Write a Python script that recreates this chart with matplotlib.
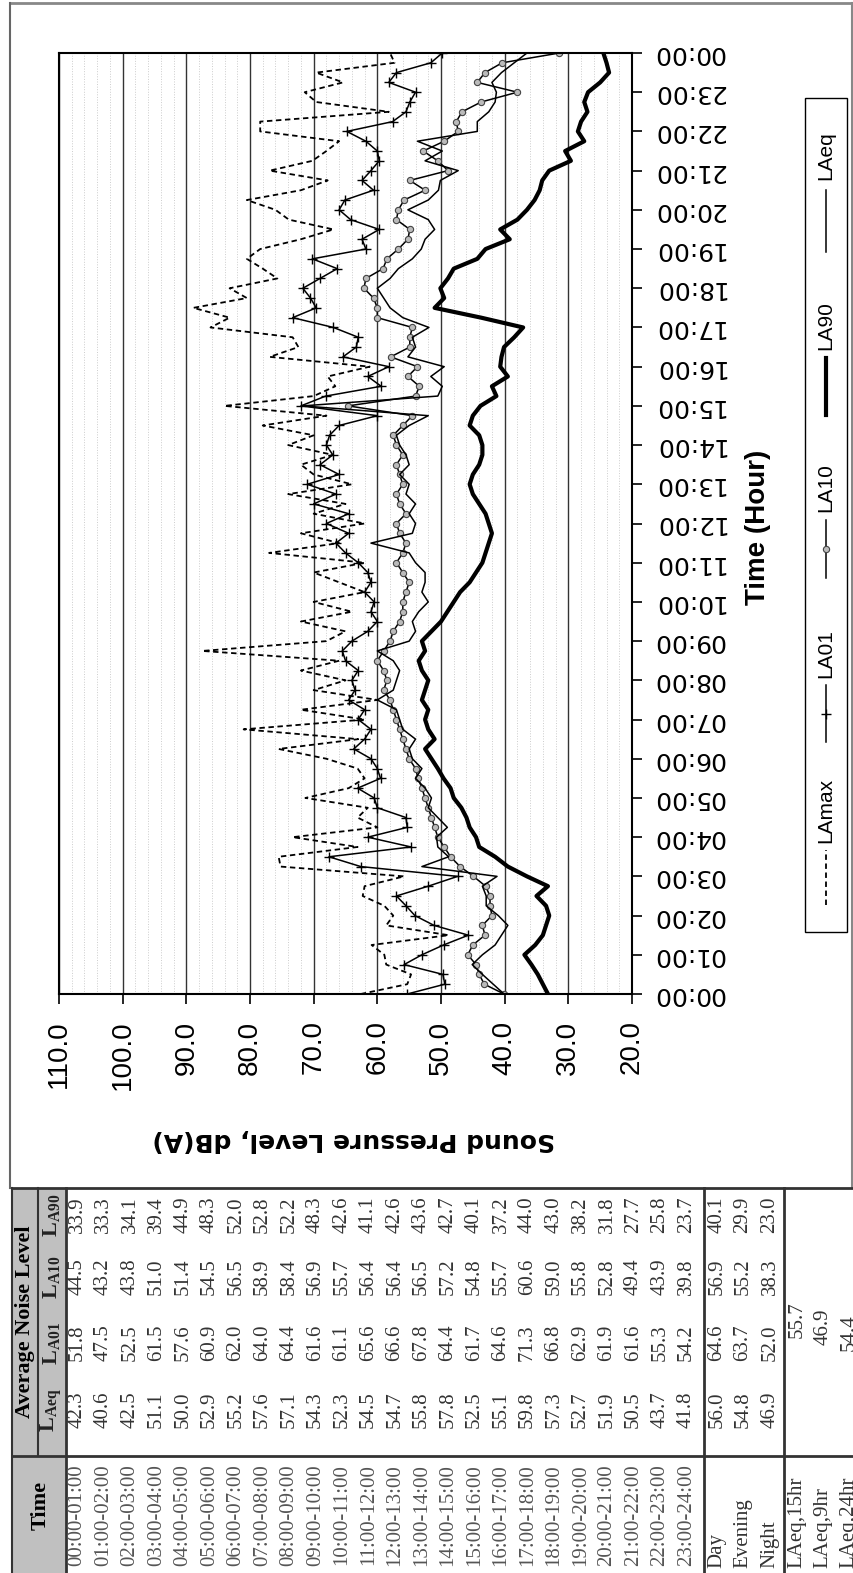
import matplotlib.pyplot as plt
import numpy as np
from matplotlib.lines import Line2D
from matplotlib.patches import Rectangle

plt.rcParams['font.family'] = ['Liberation Sans', 'DejaVu Sans']
plt.rcParams['mathtext.fontset'] = 'custom'
plt.rcParams['mathtext.rm'] = 'Liberation Serif'
plt.rcParams['mathtext.bf'] = 'Liberation Serif:bold'

# ---- chart data, 15 minute steps from 00:00 to 24:00 ----
hours = np.arange(97) * 0.25
time_labels = ['%02d:00' % h for h in range(24)] + ['00:00']

la_max = [62.6, 55.3, 54.7, 58.6,  58.9, 60.9, 48.8, 58.6,  57.5, 58.9, 62.3, 62.0,
          55.8, 75.2, 75.5, 63.1,  73.3, 60.0, 63.1, 61.5,  71.3, 64.5, 62.0, 63.1,
          68.0, 75.5, 63.0, 81.0,  62.0, 72.0, 60.0, 70.0,  65.0, 72.0, 66.0, 87.5,
          68.0, 65.0, 72.0, 64.0,  70.0, 62.0, 66.0, 70.0,  62.0, 77.0, 66.0, 72.0,
          62.0, 70.0, 65.0, 74.0,  64.0, 70.0, 72.0, 67.0,  74.0, 70.0, 78.0, 68.0,
          84.0, 70.0, 66.6, 67.8,  61.2, 76.9, 72.4, 73.3,  86.2, 83.2, 88.9, 80.5,
          83.2, 75.7, 78.0, 80.5,  78.4, 72.0, 66.9, 73.9,  76.0, 80.5, 72.0, 67.8,
          76.9, 70.2, 68.0, 66.0,  78.4, 78.4, 58.2, 69.6,  71.4, 65.4, 69.6, 57.3,
          58.0]
la01 = [55.3, 49.4, 49.7, 55.8,  53.0, 49.6, 45.7, 51.1,  54.1, 55.5, 57.0, 52.0,
        47.4, 62.6, 67.6, 54.7,  61.5, 55.3, 55.5, 60.0,  60.5, 63.1, 59.5, 60.0,
        61.0, 63.7, 62.0, 61.0,  63.0, 62.0, 64.5, 63.5,  64.0, 63.0, 65.0, 65.5,
        64.0, 61.5, 60.0, 61.0,  60.5, 62.0, 61.0, 61.5,  63.0, 65.0, 66.5, 64.5,
        68.0, 64.5, 70.0, 66.5,  71.0, 66.0, 69.0, 67.0,  68.0, 67.5, 66.0, 60.0,
        72.0, 68.1, 59.4, 61.5,  58.2, 65.4, 63.3, 63.0,  66.9, 73.3, 69.6, 70.5,
        71.7, 69.0, 66.3, 70.2,  61.8, 62.4, 59.7, 64.2,  66.0, 65.1, 60.6, 62.4,
        61.0, 59.7, 60.0, 61.8,  64.8, 57.6, 55.5, 54.9,  54.0, 58.2, 57.0, 51.6,
        49.8]
la10 = [40.1, 43.2, 44.0, 44.5,  45.8, 45.0, 43.1, 43.5,  42.0, 42.3, 42.3, 43.0,
        44.9, 47.0, 48.5, 49.5,  50.5, 51.0, 51.5, 52.0,  52.5, 53.0, 53.6, 54.0,
        55.0, 55.5, 56.0, 56.5,  57.0, 57.5, 58.0, 59.0,  58.5, 59.0, 60.0, 59.0,
        58.0, 57.5, 56.5, 56.0,  56.0, 55.5, 55.0, 56.0,  57.0, 56.0, 55.5, 56.5,
        57.0, 55.5, 56.5, 57.0,  56.0, 56.5, 57.0, 56.0,  57.0, 57.5, 56.0, 54.5,
        64.6, 54.0, 53.4, 55.2,  53.7, 57.9, 54.9, 54.9,  54.5, 60.0, 60.0, 60.6,
        62.1, 61.8, 59.1, 58.5,  56.7, 55.2, 54.9, 57.0,  56.7, 55.8, 52.5, 54.9,
        48.9, 50.5, 52.8, 49.5,  47.3, 47.6, 46.7, 43.7,  38.0, 44.3, 43.1, 40.4,
        31.4]
la90 = [33.2, 34.0, 34.8, 35.8,  36.9, 35.2, 34.0, 33.5,  33.0, 33.5, 35.0, 33.2,
        36.5, 39.5, 41.5, 44.0,  44.5, 45.5, 46.0, 46.8,  48.0, 48.5, 49.6, 50.5,
        51.5, 52.5, 51.0, 52.0,  52.5, 52.0, 53.0, 52.5,  52.0, 53.0, 53.5, 52.5,
        53.0, 51.5, 50.0, 49.0,  48.0, 47.0, 45.5, 44.5,  43.5, 43.0, 42.5, 42.0,
        42.5, 43.0, 44.0, 45.0,  45.5, 45.0, 44.0, 43.5,  43.5, 44.0, 45.5, 45.0,
        43.8, 41.3, 42.0, 39.5,  40.7, 40.5, 40.1, 38.5,  37.1, 43.7, 51.0, 49.5,
        50.1, 48.9, 48.0, 44.3,  43.0, 39.2, 40.7, 38.0,  36.5, 35.3, 34.5, 34.1,
        33.0, 29.6, 30.5, 27.5,  28.5, 28.0, 27.0, 27.5,  26.9, 25.0, 23.6, 24.0,
        24.5]
laeq = [40.1, 41.8, 43.5, 45.1,  43.5, 41.5, 40.5, 39.5,  41.0, 42.9, 42.9, 43.5,
        41.2, 53.0, 48.8, 50.5,  50.7, 49.0, 50.5, 52.0,  51.5, 52.5, 54.0, 53.0,
        54.5, 55.0, 54.0, 56.0,  56.5, 57.0, 60.0, 57.5,  57.0, 56.5, 57.5, 60.0,
        55.0, 54.0, 54.5, 53.5,  52.0, 53.0, 52.5, 52.5,  54.0, 55.0, 61.0, 54.5,
        54.0, 55.0, 54.0, 55.5,  55.0, 56.5, 55.0, 55.5,  56.5, 57.0, 55.0, 52.0,
        71.7, 50.5, 49.8, 51.6,  49.5, 55.2, 54.0, 54.5,  51.9, 56.0, 58.0, 59.0,
        60.0, 58.0, 56.7, 54.5,  53.1, 52.5, 51.0, 52.0,  55.2, 52.0, 50.4, 50.1,
        47.3, 52.5, 49.8, 53.7,  44.3, 44.3, 42.5, 41.5,  41.3, 42.0, 40.5, 38.5,
        36.5]

legend_names = ['LAmax', 'LA01', 'LA10', 'LA90', 'LAeq']

# ---- table data ----
table_time = ['%02d:00-%02d:00' % (h, h + 1) for h in range(24)]
tab_laeq = [42.3, 40.6, 42.5, 51.1, 50.0, 52.9, 55.2, 57.6, 57.1, 54.3, 52.3, 54.5,
            54.7, 55.8, 57.8, 52.5, 55.1, 59.8, 57.3, 52.7, 51.9, 50.5, 43.7, 41.8]
tab_la01 = [51.8, 47.5, 52.5, 61.5, 57.6, 60.9, 62.0, 64.0, 64.4, 61.6, 61.1, 65.6,
            66.6, 67.8, 64.4, 61.7, 64.6, 71.3, 66.8, 62.9, 61.9, 61.6, 55.3, 54.2]
tab_la10 = [44.5, 43.2, 43.8, 51.0, 51.4, 54.5, 56.5, 58.9, 58.4, 56.9, 55.7, 56.4,
            56.4, 56.5, 57.2, 54.8, 55.7, 60.6, 59.0, 55.8, 52.8, 49.4, 43.9, 39.8]
tab_la90 = [33.9, 33.3, 34.1, 39.4, 44.9, 48.3, 52.0, 52.8, 52.2, 48.3, 42.6, 41.1,
            42.6, 43.6, 42.7, 40.1, 37.2, 44.0, 43.0, 38.2, 31.8, 27.7, 25.8, 23.7]
period_names = ['Day', 'Evening', 'Night']
period_laeq = [56.0, 54.8, 46.9]
period_la01 = [64.6, 63.7, 52.0]
period_la10 = [56.9, 55.2, 38.3]
period_la90 = [40.1, 29.9, 23.0]
summary_names = ['LAeq,15hr', 'LAeq,9hr', 'LAeq,24hr']
summary_vals = [55.7, 46.9, 54.4]

W, H = 854, 1573
fig = plt.figure(figsize=(W / 100, H / 100), dpi=100)


def fx(p):
    return p / W


def fy(p):
    return 1 - p / H


def fline(x0, y0, x1, y1, **kw):
    fig.add_artist(Line2D([fx(x0), fx(x1)], [fy(y0), fy(y1)], transform=fig.transFigure, **kw))


# outer chart frame
fline(10, 3, 852, 3, color='#888888', lw=2)
fline(10, 3, 10, 1188, color='#666666', lw=1.5)
fline(852, 3, 852, 1188, color='#888888', lw=1.5)

# ---- the (rotated) chart ----
ax = fig.add_axes([fx(59), fy(994), fx(632) - fx(59), fy(53) - fy(994)])
ax.plot(la_max, hours, color='black', lw=1.3, ls=(0, (3, 2)))
ax.plot(la01, hours, color='black', lw=1.1, marker='+', ms=7, mew=1)
ax.plot(la10, hours, color='black', lw=1.1, marker='o', ms=4.5,
        mfc='#bbbbbb', mec='#444444', mew=0.8)
ax.plot(la90, hours, color='black', lw=3)
ax.plot(laeq, hours, color='black', lw=1.1)

ax.set_xlim(110, 20)
ax.set_ylim(0, 24)
ax.set_xticks(np.arange(20, 111, 10))
ax.set_xticks(np.arange(20, 111, 2), minor=True)
ax.set_xticklabels(['%.1f' % v for v in np.arange(20, 111, 10)])
ax.set_yticks(np.arange(25))
ax.set_yticklabels(time_labels)
ax.yaxis.tick_right()
ax.grid(True, which='major', axis='x', color='#333333', lw=1)
ax.grid(True, which='minor', axis='x', color='#cccccc', lw=0.7, ls=':')
ax.tick_params(axis='x', which='major', direction='out', length=7, width=1.2,
               pad=12, labelsize=20, labelrotation=90)
ax.tick_params(axis='x', which='minor', length=0)
ax.tick_params(axis='y', direction='out', length=7, width=1.2, pad=8, labelsize=18,
               labelrotation=180, left=False, right=True)
for lab in ax.get_yticklabels():
    lab.set_fontfamily('DejaVu Sans')
    lab.set_va('center')
for s in ax.spines.values():
    s.set_linewidth(1.5)
    s.set_color('black')

fig.text(fx(354), fy(1140), 'Sound Pressure Level, dB(A)', rotation=180,
         ha='center', va='center', fontsize=18, fontweight='bold', family='DejaVu Sans')
fig.text(fx(758), fy(527), 'Time (Hour)', rotation=90, ha='center', va='center',
         fontsize=20, fontweight='bold')

# ---- legend (rotated) ----
fig.add_artist(Rectangle((fx(805), fy(932)), fx(847) - fx(805), fy(98) - fy(932),
                         transform=fig.transFigure, fill=False, ec='black', lw=1))
leg_styles = [dict(color='black', lw=1.3, ls=(0, (3, 2))),
              dict(color='black', lw=1.1),
              dict(color='black', lw=1.1),
              dict(color='black', lw=3),
              dict(color='black', lw=1.1)]
leg_marks = [None, dict(marker='+', ms=7, mew=1, color='black'),
             dict(marker='o', ms=4.5, mfc='#bbbbbb', mec='#444444', mew=0.8), None, None]
leg_line = [(905, 850), (742, 685), (578, 520), (415, 358), (252, 190)]
leg_text = [843, 678, 512, 350, 180]
for name, st, mk, (y0, y1), yt in zip(legend_names, leg_styles, leg_marks, leg_line, leg_text):
    fline(826, y0, 826, y1, **st)
    if mk:
        fig.add_artist(Line2D([fx(826)], [fy((y0 + y1) / 2)], transform=fig.transFigure, **mk))
    fig.text(fx(826), fy(yt), name, rotation=90, ha='center', va='bottom', fontsize=15)

# ---- table (rotated) ----
fig.add_artist(Rectangle((fx(12), 0), fx(66) - fx(12), fy(1188),
                         transform=fig.transFigure, fc='#c0c0c0', ec='none'))
fline(12, 1188, 854, 1188, color='#333333', lw=2)
fline(12, 1456, 854, 1456, color='#333333', lw=2)
fline(12, 1188, 12, 1573, color='#333333', lw=1.5)
fline(38, 1188, 38, 1456, color='#333333', lw=1.5)
fline(66, 1188, 66, 1573, color='#333333', lw=2)
fline(704, 1188, 704, 1573, color='#333333', lw=2)
fline(784, 1188, 784, 1573, color='#333333', lw=2)

serif = 'Liberation Serif'
tc = '#333333'
fig.text(fx(25), fy(1322), 'Average Noise Level', rotation=90, ha='center', va='center',
         fontsize=16, fontweight='bold', family=serif)
fig.text(fx(41), fy(1505), 'Time', rotation=90, ha='center', va='center',
         fontsize=16, fontweight='bold', family=serif)
col_y = [1410, 1343, 1277, 1215]
sub = ['Aeq', 'A01', 'A10', 'A90']
for y, s in zip(col_y, sub):
    fig.text(fx(52), fy(y), r'$\mathbf{L}_{\mathbf{%s}}$' % s, rotation=90, ha='center',
             va='center', fontsize=16, color='#222222')

row_x = [77 + 26.5 * i for i in range(24)]
for i, x in enumerate(row_x):
    fig.text(fx(x), fy(1515), table_time[i], rotation=90, ha='center', va='center',
             fontsize=15, family=serif, color='#555555')
    for y, v in zip(col_y, [tab_laeq[i], tab_la01[i], tab_la10[i], tab_la90[i]]):
        fig.text(fx(x), fy(y), '%.1f' % v, rotation=90, ha='center', va='center',
                 fontsize=15, family=serif, color=tc)

period_x = [717, 743, 770]
for i, x in enumerate(period_x):
    fig.text(fx(x), fy(1568), period_names[i], rotation=90, ha='center', va='bottom',
             fontsize=15, family=serif, color=tc)
    for y, v in zip(col_y, [period_laeq[i], period_la01[i], period_la10[i], period_la90[i]]):
        fig.text(fx(x), fy(y), '%.1f' % v, rotation=90, ha='center', va='center',
                 fontsize=15, family=serif, color=tc)

summary_x = [797, 823, 849]
summary_y = [1320, 1327, 1333]
for i, x in enumerate(summary_x):
    fig.text(fx(x), fy(1568), summary_names[i], rotation=90, ha='center', va='bottom',
             fontsize=15, family=serif, color=tc)
    fig.text(fx(x), fy(summary_y[i]), '%.1f' % summary_vals[i], rotation=90, ha='center',
             va='center', fontsize=15, family=serif, color=tc)

fig.savefig('out.png', dpi=100)
